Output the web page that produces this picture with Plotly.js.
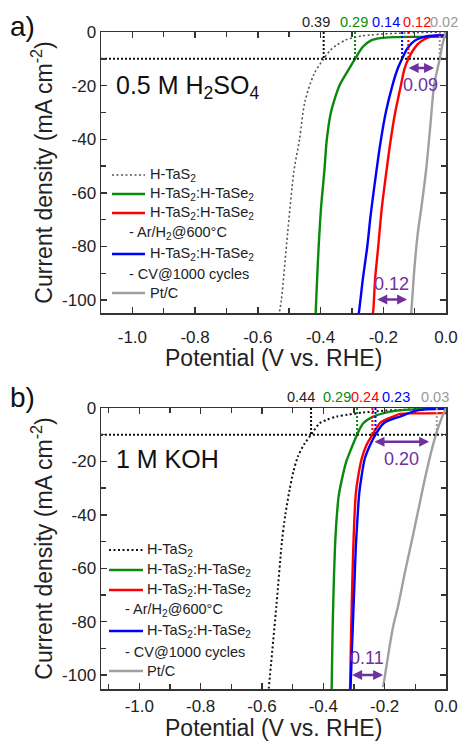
<!DOCTYPE html>
<html><head><meta charset="utf-8">
<script src="https://cdn.plot.ly/plotly-3.0.1.min.js"></script>
<style>html,body{margin:0;padding:0;background:#fff}</style>
</head><body><div id="chart" style="width:459px;height:742px"></div>
<script>
// ---------- Panel a: 0.5 M H2SO4 ----------
const aTaS2X = [0,-0.05,-0.1,-0.15,-0.2,-0.24,-0.27,-0.3,-0.32,-0.35,-0.37,-0.39,-0.42,-0.45,-0.467,-0.485,-0.505,-0.525,-0.532];
const aTaS2Y = [0,-0.1,-0.25,-0.45,-0.75,-1.1,-1.5,-2.2,-3,-5,-7,-10,-15.5,-26,-40,-52,-75,-100,-105];
const aHetX = [0,-0.1,-0.17,-0.21,-0.24,-0.265,-0.29,-0.313,-0.34,-0.355,-0.367,-0.38,-0.388,-0.398,-0.406,-0.412,-0.416];
const aHetY = [-1.8,-1.8,-1.9,-2.3,-3.2,-5.5,-10,-14.5,-20,-25,-30,-40,-52,-65,-80,-95,-106];
const aArX = [0,-0.03,-0.05,-0.07,-0.09,-0.105,-0.12,-0.133,-0.144,-0.162,-0.176,-0.19,-0.205,-0.216,-0.226,-0.232,-0.235];
const aArY = [-1.2,-1.4,-1.8,-2.8,-4.5,-6.8,-10,-14,-20,-30,-40,-52,-66,-80,-92,-104,-106];
const aCVX = [0,-0.03,-0.06,-0.09,-0.11,-0.125,-0.14,-0.155,-0.171,-0.192,-0.21,-0.222,-0.24,-0.251,-0.265,-0.277,-0.28];
const aCVY = [-1.2,-1.3,-1.6,-2.6,-4.2,-6.5,-10,-14,-20,-30,-42,-52,-68,-80,-92,-104,-106];
const aPtX = [0,-0.01,-0.02,-0.038,-0.05,-0.063,-0.078,-0.091,-0.102,-0.111,-0.113];
const aPtY = [0,-4,-10,-20,-35,-51,-65,-76,-90,-104.7,-106];
const aOnset = [-0.39,-0.29,-0.14,-0.12,-0.02];
const aOnsetLabels = ['0.39','0.29','0.14','0.12','0.02'];
const aLabelX = [-0.415,-0.294,-0.192,-0.094,-0.005];
const aGapTop = [-0.124,-0.038,-13.4]; const aGapTopText = '0.09';
const aGapBot = [-0.224,-0.124,-99.8]; const aGapBotText = '0.12';

// ---------- Panel b: 1 M KOH ----------
const bTaS2X = [0,-0.1,-0.2,-0.27,-0.32,-0.357,-0.39,-0.412,-0.44,-0.462,-0.483,-0.498,-0.51,-0.524,-0.535,-0.553,-0.578];
const bTaS2Y = [-0.2,-0.5,-1,-1.7,-2.5,-3.2,-4.5,-5.7,-10,-13.5,-18.2,-24,-30.6,-40,-50,-74,-105];
const bHetX = [0,-0.1,-0.16,-0.2,-0.237,-0.27,-0.29,-0.31,-0.325,-0.34,-0.35,-0.357,-0.362,-0.367,-0.37,-0.373];
const bHetY = [-0.3,-0.5,-1,-1.8,-3.2,-5.7,-10,-15.5,-20,-27,-33,-42,-52,-70,-85,-106];
const bArX = [0,-0.1,-0.15,-0.173,-0.2,-0.216,-0.24,-0.26,-0.275,-0.287,-0.294,-0.299,-0.303,-0.307,-0.31,-0.313];
const bArY = [-1.9,-2,-2.2,-3.2,-4.5,-5.7,-10,-14,-19,-26,-32,-42,-55,-72,-88,-106];
const bCVX = [0,-0.05,-0.096,-0.15,-0.203,-0.23,-0.25,-0.265,-0.276,-0.283,-0.289,-0.294,-0.3,-0.306,-0.311,-0.312];
const bCVY = [-0.2,-0.4,-1,-3.2,-5.7,-10,-14.5,-19,-26,-32,-42,-52,-70,-88,-104,-106];
const bPtX = [0,-0.015,-0.033,-0.06,-0.09,-0.112,-0.134,-0.156,-0.172,-0.185,-0.205];
const bPtY = [0,-4,-10,-22,-38,-50,-61.6,-74,-81.6,-90,-104.5];
const bOnset = [-0.44,-0.29,-0.24,-0.23,-0.03];
const bOnsetLabels = ['0.44','0.29','0.24','0.23','0.03'];
const bLabelX = [-0.474,-0.356,-0.265,-0.164,-0.036];
const bGapTop = [-0.238,-0.055,-12.6]; const bGapTopText = '0.20';
const bGapBot = [-0.311,-0.205,-100]; const bGapBotText = '0.11';

const seriesNames = ['H-TaS<sub>2</sub>','H-TaS<sub>2</sub>:H-TaSe<sub>2</sub>','H-TaS<sub>2</sub>:H-TaSe<sub>2</sub>','H-TaS<sub>2</sub>:H-TaSe<sub>2</sub>','Pt/C'];
const seriesNotes = ['', '', '- Ar/H<sub>2</sub>@600°C', '- CV@1000 cycles', ''];
const refCurrent = -10;
const xTitle = 'Potential (V vs. RHE)';
const yTitle = 'Current density (mA cm<sup>-2</sup>)';

// ---------- styling ----------
const GREEN='#0a8a0a', RED='#ff0000', BLUE='#0000ff', GRAY='#a0a0a0', PURPLE='#7030a0';
const colorsA = ['#555555',GREEN,RED,BLUE,GRAY];
const colorsB = ['#111111',GREEN,RED,BLUE,GRAY];
const labelColorsA = ['#222',GREEN,BLUE,RED,'#999'];
const labelColorsB = ['#222',GREEN,RED,BLUE,'#999'];
const onsetColA = ['#111',GREEN,BLUE,RED,'#999'];
const onsetColB = ['#111',GREEN,RED,BLUE,'#999'];

const traces = [];
function curves(xs, ys, cols, xa, ya, taDash, taW){
  xs.forEach((x,i)=>{
    traces.push({x:x, y:ys[i], xaxis:xa, yaxis:ya, type:'scatter', mode:'lines', name:seriesNames[i],
      line:{color:cols[i], width: i===0?taW:2.4, dash: i===0?taDash:'solid', shape:'spline', smoothing:0.8},
      hoverinfo:'skip'});
  });
}
function guides(onset, cols, xa, ya, xmin){
  traces.push({x:[xmin,0], y:[refCurrent,refCurrent], xaxis:xa, yaxis:ya, mode:'lines',
    line:{color:'#111', width:2, dash:'2px,2px'}, hoverinfo:'skip'});
  onset.forEach((v,i)=>{
    traces.push({x:[v,v], y:[0,refCurrent], xaxis:xa, yaxis:ya, mode:'lines',
      line:{color:cols[i], width:2, dash:'2px,2px'}, hoverinfo:'skip'});
  });
}
curves([aTaS2X,aHetX,aArX,aCVX,aPtX],[aTaS2Y,aHetY,aArY,aCVY,aPtY],colorsA,'x','y','2px,2.5px',1.6);
curves([bTaS2X,bHetX,bArX,bCVX,bPtX],[bTaS2Y,bHetY,bArY,bCVY,bPtY],colorsB,'x2','y2','2px,2.5px',2);
guides(aOnset, onsetColA, 'x','y',-1.1);
guides(bOnset, onsetColB, 'x2','y2',-1.125);

// ---------- layout ----------
const W=459,H=742,ML=101,MR=13,MT=32,MB=53;
const PW=W-ML-MR, PH=H-MT-MB;
const px=(p)=>(p-ML)/PW, py=(p)=>1-(p-MT)/PH;
const FONT='Liberation Sans, Arial, sans-serif';

const xTickVals=[-1.0,-0.8,-0.6,-0.4,-0.2,0.0];
const xTickText=['-1.0','-0.8','-0.6','-0.4','-0.2','0.0'];
const yTickVals=[-100,-80,-60,-40,-20,0];
const yTickText=['-100','-80','-60','-40','-20','0'];

function xax(range, anchor, so){
  return {anchor:anchor, domain:[0,1], range:range, tickmode:'array', tickvals:xTickVals, ticktext:xTickText,
    showline:true, linecolor:'#333', linewidth:1.5, mirror:'allticks', ticks:'inside', ticklen:6, tickwidth:1.5, tickcolor:'#333',
    minor:{dtick:0.1, tick0:0, ticks:'inside', ticklen:5, tickwidth:1.5, tickcolor:'#333', showgrid:false},
    showgrid:false, zeroline:false, ticklabelstandoff:so, tickfont:{size:17,color:'#222',family:FONT}};
}
function yax(range, anchor, dom){
  return {anchor:anchor, domain:dom, range:range, tickmode:'array', tickvals:yTickVals, ticktext:yTickText,
    showline:true, linecolor:'#333', linewidth:1.5, mirror:'allticks', ticks:'inside', ticklen:6, tickwidth:1.5, tickcolor:'#333',
    minor:{dtick:10, tick0:0, ticks:'inside', ticklen:5, tickwidth:1.5, tickcolor:'#333', showgrid:false},
    showgrid:false, zeroline:false, tickfont:{size:17,color:'#222',family:FONT},
    title:{text:yTitle, font:{size:23,color:'#222',family:FONT}, standoff:3}};
}

const annotations=[];
const shapes=[];
function ann(o){annotations.push(Object.assign({showarrow:false, font:{family:FONT,size:14.5,color:'#222'}}, o));}

// x-axis titles
ann({text:xTitle, xref:'paper', yref:'paper', x:px(273.5), y:py(358), xanchor:'center', yanchor:'middle', font:{family:FONT,size:23,color:'#222'}});
ann({text:xTitle, xref:'paper', yref:'paper', x:px(273.5), y:py(728), xanchor:'center', yanchor:'middle', font:{family:FONT,size:23,color:'#222'}});

// panel letters and electrolyte labels
ann({text:'a)', xref:'paper', yref:'paper', x:px(8), y:py(26), xanchor:'left', yanchor:'middle', font:{family:FONT,size:28,color:'#111'}});
ann({text:'b)', xref:'paper', yref:'paper', x:px(8), y:py(397), xanchor:'left', yanchor:'middle', font:{family:FONT,size:28,color:'#111'}});
ann({text:'0.5 M H<sub>2</sub>SO<sub>4</sub>', xref:'paper', yref:'paper', x:px(114), y:py(87), xanchor:'left', yanchor:'middle', font:{family:FONT,size:25,color:'#111'}});
ann({text:'1 M KOH', xref:'paper', yref:'paper', x:px(114), y:py(459), xanchor:'left', yanchor:'middle', font:{family:FONT,size:25,color:'#111'}});

// onset labels above plots
aOnsetLabels.forEach((t,i)=>ann({text:t, xref:'x', yref:'paper', x:aLabelX[i], y:py(22.5), xanchor:'center', yanchor:'middle', font:{family:FONT,size:14.5,color:labelColorsA[i]}}));
bOnsetLabels.forEach((t,i)=>ann({text:t, xref:'x2', yref:'paper', x:bLabelX[i], y:py(397), xanchor:'center', yanchor:'middle', font:{family:FONT,size:14.5,color:labelColorsB[i]}}));

// double arrows
function gap(g, txt, xa, ya, dy){
  annotations.push({x:g[1], y:g[2], ax:g[0], ay:g[2], xref:xa, yref:ya, axref:xa, ayref:ya, text:'', showarrow:true,
    arrowhead:2, arrowside:'end+start', arrowsize:0.8, arrowwidth:2.5, arrowcolor:PURPLE, standoff:0, startstandoff:0});
  ann({text:txt, xref:xa, yref:ya, x:(g[0]+g[1])/2, y:g[2]+dy, xanchor:'center', yanchor:'middle', font:{family:FONT,size:18,color:PURPLE}});
}
gap(aGapTop, aGapTopText, 'x','y', -6.5);
gap(aGapBot, aGapBotText, 'x','y', 6);
gap(bGapTop, bGapTopText, 'x2','y2', -6.5);
gap(bGapBot, bGapBotText, 'x2','y2', 6.5);

// manual legends
function legend(rows, lineX0, lineX1, textX, noteX, cols, dashes, widths){
  let r=0;
  seriesNames.forEach((nm,i)=>{
    const yy=rows[r++];
    shapes.push({type:'line', xref:'paper', yref:'paper', x0:px(lineX0), x1:px(lineX1), y0:py(yy), y1:py(yy),
      line:{color:cols[i], width:widths[i], dash:dashes[i]}});
    ann({text:nm, xref:'paper', yref:'paper', x:px(textX), y:py(yy), xanchor:'left', yanchor:'middle'});
    if(seriesNotes[i]){
      const y2=rows[r++];
      ann({text:seriesNotes[i], xref:'paper', yref:'paper', x:px(noteX), y:py(y2), xanchor:'left', yanchor:'middle'});
    }
  });
}
legend([175,194,213,233,254,274,293], 112, 145, 148, 127, colorsA, ['2px,2.5px','solid','solid','solid','solid'], [1.6,2.4,2.4,2.4,2.4]);
legend([550,570,590,610,631,652,671], 109, 143, 145, 123, colorsB, ['2px,2.5px','solid','solid','solid','solid'], [2,2.4,2.4,2.4,2.4]);

const yDomA=[py(313),1], yDomB=[0,py(408)];
const layout={
  width:W, height:H, margin:{l:ML,r:MR,t:MT,b:MB}, paper_bgcolor:'#fff', plot_bgcolor:'#fff',
  font:{family:FONT,color:'#222'}, showlegend:false,
  xaxis:xax([-1.1,0],'y',8), yaxis:yax([-104.8,0],'x',yDomA),
  xaxis2:xax([-1.125,0],'y2',1), yaxis2:yax([-105.2,0],'x2',yDomB),
  annotations:annotations, shapes:shapes
};
Plotly.newPlot('chart', traces, layout, {staticPlot:true, displayModeBar:false});
</script></body></html>
